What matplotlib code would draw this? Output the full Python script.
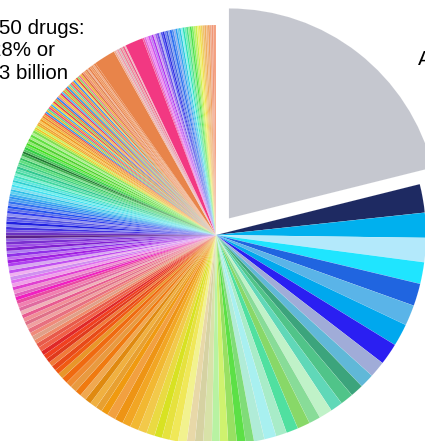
import matplotlib.pyplot as plt

# shares of spending (degrees of the pie), clockwise from 12 o'clock
other_share = [76.0]
other_colour = ['#c5c7cf']

right_share = [7.9, 6.9, 6.7, 6.0, 6.2, 5.7, 6.2, 6.0, 4.5, 4.0,
               3.6, 3.6, 3.4, 3.7, 3.2, 3.5, 3.3, 3.0, 3.3, 2.9]
right_colour = ['#1e2a62', '#00b0ee', '#b3e9fb', '#1fe5ff', '#2065e0',
                '#5ab4e8', '#00a8ee', '#2a1ff2', '#a0acd8', '#60b8d8',
                '#3ca47c', '#50c489', '#60d8b8', '#c0f2c8', '#88dc98',
                '#88d868', '#50e0a0', '#a8ecc8', '#a8f0f0', '#b0ecd8']

bottom_share = [2.3, 2.4, 2.4, 2.3, 2.2, 2.4, 2.3, 2.2, 2.4,
                2.3, 2.2, 2.1, 2.3, 2.4, 2.4, 2.3, 2.3, 2.4]
bottom_colour = ['#80dc78', '#5ce046', '#98e062', '#cff26e', '#b8f2a2',
                 '#d8e2a8', '#d6d2a2', '#e8d8a8', '#f2f28e', '#f0e858',
                 '#e6e23e', '#d8e222', '#eada42', '#f2c94a', '#f2b832',
                 '#f2a624', '#ee9414', '#f2a040']

lower_left_share = [1.9, 1.8, 1.9, 1.7, 1.8, 1.7, 1.8, 1.6, 1.7, 1.6,
                    1.3, 1.4, 1.3, 1.2, 1.3, 1.2, 1.3, 1.2, 1.1, 1.2,
                    1.1, 1.2, 1.1, 1.0, 1.1, 1.0, 1.1, 1.0, 1.1, 1.0,
                    1.0, 0.9, 1.0, 0.9, 1.0, 0.9, 1.0, 0.9, 0.9, 1.0,
                    0.9, 0.9, 0.8, 0.9, 0.8, 0.9, 0.8, 0.9, 0.8, 0.9]
lower_left_colour = ['#f09a10', '#e8a030', '#f0b040', '#e08a10', '#f0a850',
                     '#f07a10', '#e89a40', '#f08a30', '#f06a10', '#e8962a',
                     '#f05a12', '#e84a18', '#f07a3a', '#e03a1c', '#f04020',
                     '#e02828', '#f06048', '#e85a4a', '#f08a6a', '#e0a088',
                     '#f08a7a', '#e87080', '#f0a0a0', '#e07088', '#f09098',
                     '#e85a90', '#f0b0b8', '#e06aa0', '#f080b0', '#e84aa0',
                     '#f020c0', '#e060c0', '#f090d0', '#e040d0', '#f0a0e8',
                     '#e070f0', '#d090f0', '#f0b0f0', '#c050f0', '#d8a8f0',
                     '#b040f0', '#a020e0', '#c070f0', '#9030e8', '#b080f0',
                     '#8020d0', '#a050e8', '#7a30d0', '#9060e0', '#5a2088']

left_share = [0.8, 0.7, 0.8, 0.7, 0.8, 0.7, 0.7, 0.8, 0.7, 0.7,
              0.7, 0.6, 0.7, 0.7, 0.6, 0.7, 0.7, 0.6, 0.7, 0.6,
              0.7, 0.6, 0.7, 0.6, 0.6, 0.7, 0.6, 0.7, 0.6, 0.6,
              0.7, 0.6, 0.6, 0.7, 0.6, 0.6, 0.7, 0.6, 0.6, 0.6,
              0.7, 0.6, 0.7, 0.6, 0.7]
left_colour = ['#6a30c0', '#7a50e0', '#4030e0', '#8080f0', '#2020e0',
               '#6060f0', '#5050e0', '#9090f0', '#3040f0', '#6070e8',
               '#2050f0', '#7090f0', '#3070f0', '#50a0f0', '#3090f0',
               '#40b0f0', '#60d0f0', '#30c0e8', '#80e0f0', '#40e0f0',
               '#70f0f0', '#30d0d0', '#60e8e0', '#40e0c0', '#80f0d0',
               '#40d8a0', '#60e0b0', '#30c890', '#70e0a0', '#40d080',
               '#60e080', '#30c060', '#80e090', '#40b050', '#207a30',
               '#50c060', '#30d040', '#70e060', '#40e020', '#90e870',
               '#50d030', '#a0f080', '#60e040', '#b0f090', '#80e050']

upper_left_share = [0.5, 0.5, 0.6, 0.5, 0.5, 0.5, 0.6, 0.5, 0.5, 0.5,
                    0.5, 0.5, 0.5, 0.5, 0.5, 0.5, 0.5, 0.5, 0.5, 0.5,
                    0.5, 0.5, 0.5, 0.5, 0.5, 0.5, 0.5, 0.5, 0.5, 0.5,
                    0.5, 0.5, 0.5, 0.5, 0.5, 0.5, 0.5, 0.5, 0.5, 0.5,
                    0.5, 0.5, 0.5, 0.5, 0.4, 0.5, 0.5, 0.4, 0.5, 0.5]
upper_left_colour = ['#b8e840', '#f0c820', '#d0f060', '#f0b020', '#f0a030',
                     '#f8c850', '#f09820', '#f0b840', '#f08030', '#f0a838',
                     '#f05848', '#3098f0', '#f0b828', '#60d890', '#f04878',
                     '#f09828', '#40b0f0', '#f0d840', '#f04040', '#90d860',
                     '#f07830', '#3080f0', '#f09880', '#f0c830', '#e03870',
                     '#50c0f0', '#f09040', '#b0d840', '#f05050', '#30a0e0',
                     '#f0b050', '#70d8a0', '#f05870', '#f0a030', '#4090f0',
                     '#f0d860', '#f05030', '#90d870', '#f07890', '#f0b838',
                     '#e07040', '#f09070', '#f0a060', '#e08050', '#f0b090',
                     '#e88048', '#f09860', '#e88a50', '#f0a880', '#e8844a']

orange_share = [6.0]
orange_colour = ['#e8844a']

mid_share = [0.5, 0.4, 0.5, 0.4, 0.5, 0.4, 0.5, 0.4]
mid_colour = ['#f0a890', '#e8b8b8', '#f098a8', '#d0b8b8',
              '#f08098', '#e0a8a8', '#f05888', '#f0b8c0']

pink_share = [5.0]
pink_colour = ['#f23882']

top_share = [0.5, 0.5, 0.6, 0.5, 0.5, 0.5, 0.5, 0.5, 0.6, 0.5,
             0.5, 0.5, 0.5, 0.5, 0.5, 0.6, 0.5, 0.5, 0.5, 0.5,
             0.5, 0.5, 0.5, 0.5, 0.5, 0.5, 0.5, 0.5, 0.5, 0.5,
             0.5, 0.5, 0.5, 0.5, 0.5, 0.5, 0.5, 0.5, 0.5, 0.7]
top_colour = ['#f060a8', '#e070e0', '#f090f0', '#d050f0', '#c080f0',
              '#b030f0', '#d0a0f0', '#a060f0', '#7050e8', '#b0b0f0',
              '#5050f0', '#3030e0', '#7080f0', '#4060e0', '#80a0f0',
              '#3070f0', '#5090f0', '#90b0f0', '#30a0f0', '#70c8f0',
              '#30c8e0', '#90f0f0', '#30e0b8', '#70f0b8', '#50e088',
              '#90f090', '#50e050', '#80f060', '#b8f070', '#c8f050',
              '#f0f070', '#f0e050', '#f0d060', '#f0c070', '#f0b060',
              '#f0b880', '#f0a060', '#f0a888', '#f09878', '#f4a080']

shares = (other_share + right_share + bottom_share + lower_left_share + left_share
          + upper_left_share + orange_share + mid_share + pink_share + top_share)
colours = (other_colour + right_colour + bottom_colour + lower_left_colour + left_colour
           + upper_left_colour + orange_colour + mid_colour + pink_colour + top_colour)

plt.rcParams['font.family'] = ['Liberation Sans', 'DejaVu Sans']

fig = plt.figure(figsize=(4.25, 4.41), dpi=100)
ax = fig.add_axes([0, 0, 1, 1])

explode = [0.1] + [0] * (len(shares) - 1)
ax.pie(shares, colors=colours, explode=explode, startangle=90, counterclock=False,
       wedgeprops=dict(edgecolor=(1, 1, 1, 0.4), linewidth=0.12))

# pixel geometry of the reference: centre (216, 235), radius 210
R = 210.0
ax.set_xlim(-216 / R, (425 - 216) / R)
ax.set_ylim(-(441 - 235) / R, 235 / R)
ax.set_aspect('auto')
ax.axis('off')

# baseline of the last line sits at y = 78 px
ax.text((22.5 - 216) / R, (235 - 78) / R, 'Top 50 drugs:\n28% or\n$73 billion',
        ha='center', va='baseline', multialignment='center', fontsize=14.8,
        linespacing=1.2)
ax.text((418 - 216) / R, (235 - 65) / R, 'All others', ha='left', va='baseline',
        fontsize=14.8)

fig.savefig('out.png', dpi=100)
